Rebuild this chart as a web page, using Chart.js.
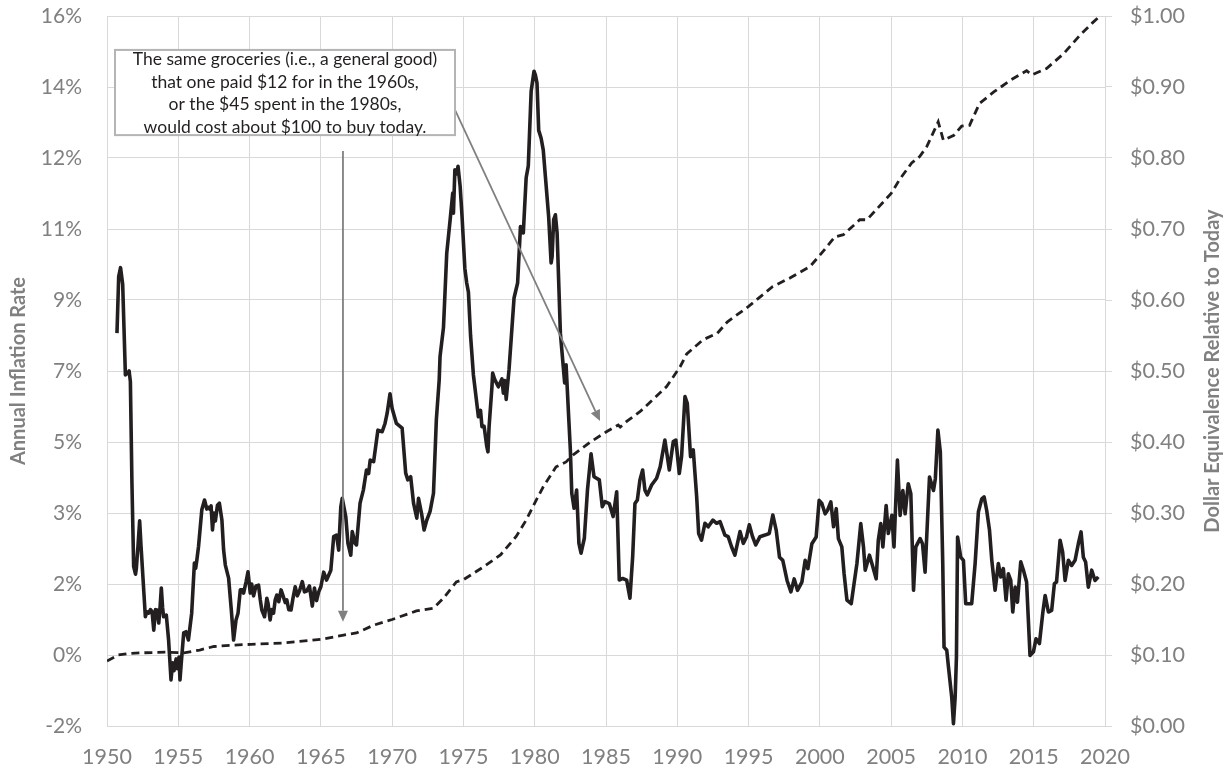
<!DOCTYPE html>
<html>
<head>
<meta charset="utf-8">
<title>Inflation vs Dollar Equivalence</title>
<script src="https://cdn.jsdelivr.net/npm/chart.js@4.4.1/dist/chart.umd.min.js"></script>
<style>
    html, body { margin: 0; padding: 0; background: #fff; }
    #wrap { width: 1230px; height: 768px; }
</style>
</head>
<body>
<div id="wrap"><canvas id="inflChart" width="1230" height="768"></canvas></div>
<script>
// 1. Data
const xTickValues = [1950, 1955, 1960, 1965, 1970, 1975, 1980, 1985, 1990, 1995, 2000, 2005, 2010, 2015, 2020];
const leftTickValues = [-2, -0.2, 1.6, 3.4, 5.2, 7, 8.8, 10.6, 12.4, 14.2, 16];
const leftTickLabels = ['-2%', '0%', '2%', '3%', '5%', '7%', '9%', '11%', '12%', '14%', '16%'];
const rightTickValues = [0, 0.1, 0.2, 0.3, 0.4, 0.5, 0.6, 0.7, 0.8, 0.9, 1.0];

// [year, annual inflation %]
const inflationSeries = [
    [1950.70, 7.96], [1950.82, 9.39], [1950.95, 9.62], [1951.10, 9.2], [1951.29, 6.9], [1951.45, 6.95],
    [1951.55, 7.0], [1951.64, 6.73], [1951.75, 4.15], [1951.87, 2.04], [1952.00, 1.85], [1952.06, 2.0],
    [1952.18, 2.6], [1952.29, 3.2], [1952.38, 2.6], [1952.46, 2.13], [1952.69, 0.77], [1952.80, 0.9],
    [1952.93, 0.86], [1953.05, 0.95], [1953.16, 0.9], [1953.28, 0.43], [1953.40, 0.95], [1953.51, 0.94],
    [1953.63, 0.61], [1953.72, 1.0], [1953.81, 1.5], [1953.90, 1.0], [1953.97, 0.77], [1954.16, 0.81],
    [1954.32, 0.18], [1954.49, -0.83], [1954.60, -0.4], [1954.70, -0.6], [1954.85, -0.3], [1954.95, -0.55],
    [1955.05, -0.25], [1955.12, -0.83], [1955.22, -0.35], [1955.38, 0.36], [1955.54, 0.39], [1955.71, 0.18],
    [1955.94, 0.86], [1956.13, 2.13], [1956.22, 2.0], [1956.30, 2.2], [1956.42, 2.55], [1956.65, 3.48],
    [1956.84, 3.73], [1957.00, 3.5], [1957.07, 3.55], [1957.20, 3.5], [1957.30, 3.58], [1957.40, 2.97],
    [1957.50, 3.4], [1957.60, 3.2], [1957.75, 3.6], [1957.88, 3.65], [1958.06, 3.22], [1958.18, 2.46],
    [1958.30, 2.08], [1958.53, 1.75], [1958.72, 0.94], [1958.88, 0.18], [1959.05, 0.69], [1959.19, 0.86],
    [1959.35, 1.45], [1959.50, 1.45], [1959.58, 1.37], [1959.75, 1.65], [1959.89, 1.91], [1960.05, 1.37],
    [1960.15, 1.6], [1960.28, 1.3], [1960.45, 1.55], [1960.63, 1.57], [1960.75, 1.2], [1960.86, 0.94],
    [1961.05, 0.77], [1961.21, 1.24], [1961.30, 1.1], [1961.44, 0.69], [1961.55, 0.95], [1961.68, 0.86],
    [1961.80, 1.2], [1961.91, 1.32], [1962.05, 1.15], [1962.21, 1.45], [1962.35, 1.3], [1962.50, 1.13],
    [1962.61, 1.2], [1962.75, 0.95], [1962.91, 0.94], [1963.05, 1.25], [1963.20, 1.53], [1963.35, 1.3],
    [1963.50, 1.42], [1963.70, 1.66], [1963.85, 1.4], [1964.00, 1.42], [1964.20, 1.55], [1964.40, 1.04],
    [1964.55, 1.5], [1964.70, 1.18], [1964.85, 1.4], [1965.00, 1.53], [1965.20, 1.9], [1965.40, 1.7],
    [1965.70, 1.95], [1965.90, 2.8], [1966.10, 2.84], [1966.25, 2.46], [1966.40, 3.56], [1966.50, 3.77],
    [1966.75, 3.3], [1966.90, 2.63], [1967.10, 2.33], [1967.20, 2.93], [1967.40, 2.63], [1967.50, 2.59],
    [1967.75, 3.65], [1967.98, 3.98], [1968.20, 4.49], [1968.35, 4.4], [1968.46, 4.74], [1968.70, 4.7],
    [1969.00, 5.5], [1969.30, 5.46], [1969.50, 5.67], [1969.65, 5.93], [1969.85, 6.42], [1970.00, 6.05],
    [1970.30, 5.67], [1970.70, 5.55], [1970.95, 4.41], [1971.10, 4.24], [1971.30, 4.32], [1971.50, 3.65],
    [1971.73, 3.27], [1971.85, 3.77], [1972.08, 3.35], [1972.24, 2.97], [1972.43, 3.22], [1972.66, 3.44],
    [1972.90, 3.9], [1973.10, 5.76], [1973.30, 6.77], [1973.36, 7.37], [1973.60, 8.1], [1973.83, 9.99],
    [1974.07, 10.84], [1974.25, 11.51], [1974.30, 11.0], [1974.40, 12.1], [1974.55, 12.0], [1974.62, 12.19],
    [1974.77, 11.68], [1974.90, 10.94], [1975.10, 9.6], [1975.23, 9.23], [1975.35, 9.0], [1975.50, 7.9],
    [1975.70, 6.9], [1976.05, 5.84], [1976.20, 6.0], [1976.30, 5.59], [1976.45, 5.6], [1976.64, 5.08],
    [1976.72, 4.95], [1976.80, 5.59], [1977.00, 6.6], [1977.05, 6.95], [1977.20, 6.78], [1977.45, 6.6],
    [1977.70, 6.8], [1977.80, 6.44], [1977.90, 6.76], [1978.00, 6.28], [1978.20, 7.04], [1978.55, 8.85],
    [1978.80, 9.23], [1979.00, 10.66], [1979.20, 10.5], [1979.40, 11.9], [1979.55, 12.2], [1979.75, 14.09],
    [1979.95, 14.6], [1980.05, 14.5], [1980.16, 14.3], [1980.28, 13.1], [1980.45, 12.9], [1980.60, 12.6],
    [1980.75, 11.93], [1980.98, 10.9], [1981.15, 9.74], [1981.22, 9.9], [1981.33, 10.84], [1981.45, 10.96],
    [1981.57, 10.5], [1981.80, 7.96], [1982.00, 7.12], [1982.10, 6.7], [1982.20, 7.16], [1982.38, 5.85],
    [1982.50, 5.0], [1982.60, 3.9], [1982.76, 3.52], [1982.94, 3.98], [1983.10, 2.63], [1983.25, 2.38],
    [1983.48, 2.76], [1983.70, 3.98], [1983.95, 4.9], [1984.16, 4.32], [1984.53, 4.24], [1984.74, 3.56],
    [1984.93, 3.69], [1985.23, 3.64], [1985.50, 3.31], [1985.75, 3.94], [1985.93, 1.7], [1986.17, 1.74],
    [1986.45, 1.7], [1986.68, 1.24], [1986.87, 2.29], [1987.03, 3.64], [1987.20, 3.73], [1987.38, 4.24],
    [1987.57, 4.49], [1987.73, 3.98], [1987.90, 3.86], [1988.20, 4.11], [1988.55, 4.28], [1988.80, 4.57],
    [1989.13, 5.25], [1989.44, 4.49], [1989.72, 5.21], [1989.90, 5.25], [1990.14, 4.4], [1990.30, 4.83],
    [1990.54, 6.35], [1990.70, 6.18], [1990.93, 4.83], [1991.12, 5.0], [1991.36, 3.81], [1991.50, 2.88],
    [1991.70, 2.71], [1991.94, 3.14], [1992.17, 3.05], [1992.50, 3.22], [1992.76, 3.14], [1993.00, 3.18],
    [1993.34, 2.84], [1993.57, 2.8], [1993.80, 2.55], [1994.04, 2.33], [1994.40, 2.93], [1994.63, 2.63],
    [1994.86, 2.8], [1995.05, 3.1], [1995.28, 2.8], [1995.50, 2.59], [1995.80, 2.8], [1996.15, 2.84],
    [1996.45, 2.88], [1996.70, 3.35], [1996.94, 2.96], [1997.17, 2.28], [1997.40, 2.2], [1997.70, 1.69],
    [1997.97, 1.4], [1998.20, 1.73], [1998.43, 1.44], [1998.74, 1.65], [1998.97, 2.2], [1999.16, 1.99],
    [1999.44, 2.62], [1999.74, 2.79], [1999.95, 3.72], [2000.14, 3.64], [2000.37, 3.38], [2000.54, 3.47],
    [2000.77, 3.68], [2000.96, 3.05], [2001.15, 3.51], [2001.30, 2.75], [2001.54, 2.54], [2001.70, 1.86],
    [2001.90, 1.19], [2002.20, 1.1], [2002.40, 1.61], [2002.60, 2.12], [2002.87, 3.13], [2003.06, 2.54],
    [2003.18, 1.95], [2003.48, 2.33], [2003.72, 2.03], [2003.95, 1.73], [2004.10, 2.71], [2004.27, 3.13],
    [2004.42, 2.54], [2004.65, 3.59], [2004.80, 2.88], [2005.05, 3.34], [2005.20, 2.54], [2005.44, 4.74],
    [2005.63, 3.34], [2005.82, 3.97], [2005.98, 3.38], [2006.20, 4.14], [2006.38, 3.89], [2006.57, 1.44],
    [2006.73, 2.54], [2007.03, 2.75], [2007.20, 2.62], [2007.38, 1.9], [2007.69, 4.31], [2007.97, 3.97],
    [2008.10, 4.27], [2008.28, 5.5], [2008.45, 4.95], [2008.62, 2.12], [2008.71, 0.0], [2008.90, -0.08],
    [2009.02, -0.5], [2009.25, -1.27], [2009.37, -1.94], [2009.49, -1.27], [2009.58, -0.25], [2009.66, 2.79],
    [2009.88, 2.28], [2010.07, 2.2], [2010.23, 1.1], [2010.50, 1.1], [2010.65, 1.1], [2010.89, 2.12],
    [2011.12, 3.43], [2011.36, 3.76], [2011.52, 3.81], [2011.70, 3.47], [2011.90, 2.96], [2012.06, 2.2],
    [2012.29, 1.44], [2012.52, 2.12], [2012.69, 1.78], [2012.87, 1.99], [2013.06, 1.19], [2013.22, 1.86],
    [2013.39, 1.69], [2013.53, 0.89], [2013.70, 1.52], [2013.86, 1.14], [2014.09, 2.16], [2014.28, 1.95],
    [2014.50, 1.65], [2014.74, -0.21], [2014.98, -0.12], [2015.16, 0.21], [2015.40, 0.09], [2015.63, 0.85],
    [2015.80, 1.31], [2016.03, 0.89], [2016.26, 0.93], [2016.45, 1.61], [2016.60, 1.65], [2016.85, 2.71],
    [2017.03, 2.41], [2017.20, 1.69], [2017.43, 2.2], [2017.66, 2.07], [2017.90, 2.2], [2018.13, 2.62],
    [2018.32, 2.92], [2018.48, 2.28], [2018.64, 2.16], [2018.83, 1.52], [2019.07, 1.95], [2019.30, 1.69],
    [2019.53, 1.78]
];

// [year, dollar value relative to today]
const dollarSeries = [
    [1950.0, 0.0915], [1950.8, 0.100], [1951.5, 0.102], [1952.3, 0.103], [1954.2, 0.104], [1955.4, 0.103],
    [1956.5, 0.107], [1957.5, 0.112], [1958.9, 0.114], [1960.1, 0.115], [1962.4, 0.117], [1965.0, 0.122],
    [1966.6, 0.128], [1967.5, 0.131], [1968.7, 0.142], [1970.0, 0.150], [1971.7, 0.162], [1972.9, 0.166],
    [1973.6, 0.180], [1974.5, 0.203], [1975.0, 0.206], [1976.4, 0.224], [1977.6, 0.241], [1978.7, 0.267],
    [1979.4, 0.290], [1980.0, 0.314], [1980.6, 0.337], [1981.5, 0.365], [1982.2, 0.372], [1982.7, 0.382],
    [1983.9, 0.400], [1985.0, 0.414], [1985.86, 0.424], [1986.0, 0.421], [1986.45, 0.429], [1987.4, 0.443],
    [1988.3, 0.460], [1989.25, 0.478], [1990.2, 0.506], [1990.66, 0.524], [1991.8, 0.544], [1992.8, 0.553],
    [1993.5, 0.569], [1995.0, 0.591], [1996.7, 0.619], [1997.9, 0.631], [1999.3, 0.647], [2000.0, 0.663],
    [2001.06, 0.689], [2001.65, 0.692], [2002.8, 0.713], [2003.3, 0.713], [2005.0, 0.750], [2005.6, 0.770],
    [2006.44, 0.793], [2007.0, 0.802], [2007.5, 0.816], [2008.3, 0.851], [2008.66, 0.825], [2009.4, 0.832],
    [2009.95, 0.845], [2010.5, 0.846], [2011.2, 0.877], [2012.2, 0.893], [2013.4, 0.910], [2014.5, 0.923],
    [2014.86, 0.917], [2015.9, 0.926], [2017.1, 0.947], [2018.25, 0.973], [2019.1, 0.990], [2019.65, 1.000]
];

const noteLines = [
    'The same groceries (i.e., a general good)',
    'that one paid $12 for in the 1960s,',
    'or the $45 spent in the 1980s,',
    'would cost about $100 to buy today.'
];

// 2. Style constants
const FONT = "Lato, 'Open Sans', sans-serif";
const AXIS_GREY = '#808080';
const GRID_GREY = '#d9d9d9';
const LINE_BLACK = '#231f20';

// note box + arrows, in data units (x = year, y = left axis %)
const note = { x0: 1950.56, x1: 1974.41, yTop: 15.14, yBottom: 12.98 };
const arrows = [
    { from: [1966.55, 12.58], to: [1966.55, 0.64] },
    { from: [1974.41, 13.62], to: [1984.58, 5.73] }
];

// no label overflow padding, so the plot area sits where the reference has it
const noOverflow = s => { s.paddingTop = 0; s.paddingBottom = 0; s.paddingLeft = 0; s.paddingRight = 0; };

// 3. Plugin: axis titles, note box, arrows
const extrasPlugin = {
    id: 'extras',
    afterDraw(chart) {
        const { ctx, chartArea } = chart;
        const xs = chart.scales.x;
        const ys = chart.scales.yL;
        const midY = (chartArea.top + chartArea.bottom) / 2;

        // axis titles (both read bottom-to-top)
        [['Annual Inflation Rate', 19], ['Dollar Equivalence Relative to Today', 1213]].forEach(([txt, x]) => {
            ctx.save();
            ctx.fillStyle = AXIS_GREY;
            ctx.font = `bold 20px ${FONT}`;
            ctx.textAlign = 'center';
            ctx.textBaseline = 'middle';
            ctx.translate(x, midY);
            ctx.rotate(-Math.PI / 2);
            ctx.fillText(txt, 0, 0);
            ctx.restore();
        });

        // arrows
        ctx.save();
        ctx.strokeStyle = '#808080';
        ctx.fillStyle = '#808080';
        ctx.lineWidth = 1.8;
        arrows.forEach(a => {
            const x1 = xs.getPixelForValue(a.from[0]), y1 = ys.getPixelForValue(a.from[1]);
            const x2 = xs.getPixelForValue(a.to[0]), y2 = ys.getPixelForValue(a.to[1]);
            const ang = Math.atan2(y2 - y1, x2 - x1);
            const head = 11, half = 5;
            const bx = x2 - head * Math.cos(ang), by = y2 - head * Math.sin(ang);
            ctx.beginPath();
            ctx.moveTo(x1, y1);
            ctx.lineTo(bx, by);
            ctx.stroke();
            ctx.beginPath();
            ctx.moveTo(x2, y2);
            ctx.lineTo(bx + half * Math.sin(ang), by - half * Math.cos(ang));
            ctx.lineTo(bx - half * Math.sin(ang), by + half * Math.cos(ang));
            ctx.closePath();
            ctx.fill();
        });
        ctx.restore();

        // note box
        const bx0 = xs.getPixelForValue(note.x0), bx1 = xs.getPixelForValue(note.x1);
        const by0 = ys.getPixelForValue(note.yTop), by1 = ys.getPixelForValue(note.yBottom);
        ctx.save();
        ctx.fillStyle = '#fff';
        ctx.fillRect(bx0, by0, bx1 - bx0, by1 - by0);
        ctx.strokeStyle = '#b4b4b4';
        ctx.lineWidth = 2;
        ctx.strokeRect(bx0, by0, bx1 - bx0, by1 - by0);
        ctx.fillStyle = LINE_BLACK;
        ctx.font = `17.5px ${FONT}`;
        ctx.textAlign = 'center';
        ctx.textBaseline = 'alphabetic';
        const cx = (bx0 + bx1) / 2;
        noteLines.forEach((line, i) => {
            ctx.fillText(line, cx, by0 + 15 + i * 22.7);
        });
        ctx.restore();
    }
};

// 4. Chart
const ctxMain = document.getElementById('inflChart').getContext('2d');
new Chart(ctxMain, {
    type: 'line',
    data: {
        datasets: [
            {
                label: 'Annual Inflation Rate',
                data: inflationSeries.map(p => ({ x: p[0], y: p[1] })),
                yAxisID: 'yL',
                borderColor: LINE_BLACK,
                borderWidth: 3.6,
                borderJoinStyle: 'round',
                pointRadius: 0,
                tension: 0
            },
            {
                label: 'Dollar Equivalence Relative to Today',
                data: dollarSeries.map(p => ({ x: p[0], y: p[1] })),
                yAxisID: 'yR',
                borderColor: LINE_BLACK,
                borderWidth: 2.8,
                borderDash: [8, 5],
                pointRadius: 0,
                tension: 0
            }
        ]
    },
    options: {
        responsive: false,
        animation: false,
        layout: { padding: { top: 16, left: 0, right: 0, bottom: 0 } },
        plugins: {
            legend: { display: false },
            tooltip: { enabled: false }
        },
        scales: {
            x: {
                type: 'linear',
                min: 1950,
                max: 2020,
                afterBuildTicks: s => { s.ticks = xTickValues.map(v => ({ value: v })); },
                afterFit: s => { s.height = 42; noOverflow(s); },
                ticks: {
                    color: AXIS_GREY,
                    font: { family: FONT, size: 21.5 },
                    padding: 18,
                    maxRotation: 0,
                    autoSkip: false,
                    callback: v => String(v)
                },
                grid: { color: GRID_GREY, lineWidth: 1, drawTicks: false },
                border: { color: GRID_GREY }
            },
            yL: {
                position: 'left',
                min: -2,
                max: 16,
                afterBuildTicks: s => { s.ticks = leftTickValues.map(v => ({ value: v })); },
                afterFit: s => { s.width = 107; noOverflow(s); },
                ticks: {
                    color: AXIS_GREY,
                    font: { family: FONT, size: 21 },
                    padding: 25,
                    autoSkip: false,
                    callback: (v, i) => leftTickLabels[i]
                },
                grid: { color: GRID_GREY, lineWidth: 1, drawTicks: false },
                border: { color: GRID_GREY }
            },
            yR: {
                position: 'right',
                min: 0,
                max: 1,
                afterBuildTicks: s => { s.ticks = rightTickValues.map(v => ({ value: v })); },
                afterFit: s => { s.width = 125; noOverflow(s); },
                ticks: {
                    color: AXIS_GREY,
                    font: { family: FONT, size: 21.5 },
                    padding: 18,
                    autoSkip: false,
                    callback: v => '$' + v.toFixed(2)
                },
                grid: { color: GRID_GREY, lineWidth: 1, drawOnChartArea: false, tickLength: 7 },
                border: { color: GRID_GREY }
            }
        }
    },
    plugins: [extrasPlugin]
});
</script>
</body>
</html>
